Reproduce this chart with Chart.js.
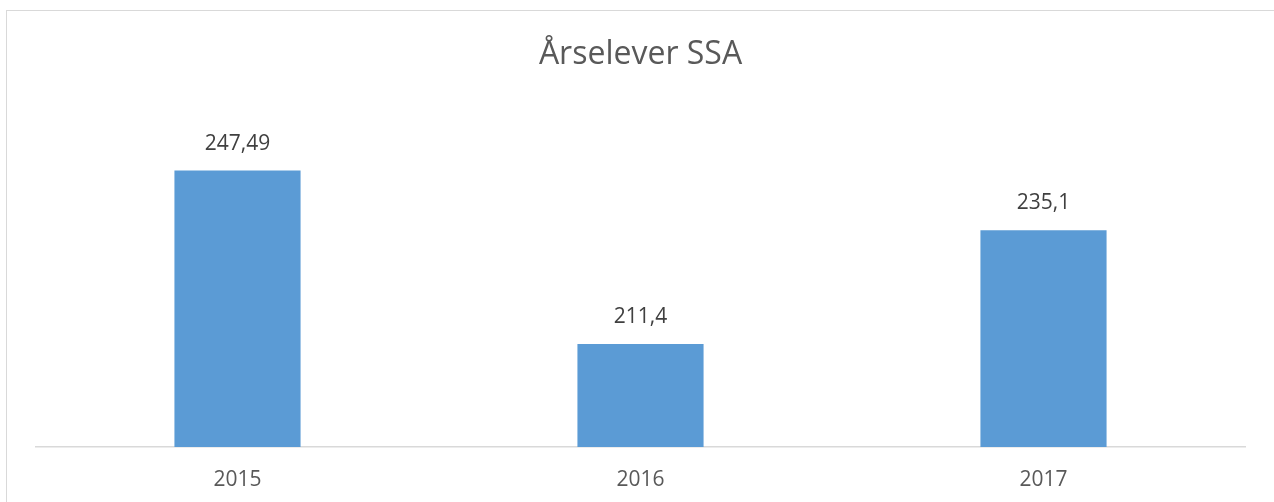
<!DOCTYPE html>
<html>
<head>
<meta charset="utf-8">
<script src="https://cdn.jsdelivr.net/npm/chart.js@4/dist/chart.umd.min.js"></script>
<style>
    html, body { margin: 0; padding: 0; background: #fff; overflow: hidden; }
    #frame {
        position: absolute; left: 6px; top: 10px; width: 1280px; height: 520px;
        border: 1px solid #d9d9d9; box-sizing: border-box;
    }
    #wrap { position: absolute; left: 0; top: 0; width: 1274px; height: 502px; }
</style>
</head>
<body>
<div id="frame"></div>
<div id="wrap"><canvas id="chart"></canvas></div>
<script>
const chartTitle = 'Årselever SSA';
const years = ['2015', '2016', '2017'];
const students = [247.49, 211.4, 235.1];

// draws the value above each bar, norwegian decimal comma
const valueLabels = {
    id: 'valueLabels',
    afterDatasetsDraw(chart) {
        const ctx = chart.ctx;
        const meta = chart.getDatasetMeta(0);
        ctx.save();
        ctx.font = '21px "Open Sans"';
        ctx.fillStyle = '#404040';
        ctx.textAlign = 'center';
        ctx.textBaseline = 'middle';
        meta.data.forEach((bar, i) => {
            const text = String(students[i]).replace('.', ',');
            ctx.fillText(text, bar.x, bar.y - 27);
        });
        ctx.restore();
    }
};

try {
    const ctx = document.getElementById('chart');
    ctx.chart = new Chart(ctx, {
        type: 'bar',
        data: {
            labels: years,
            datasets: [{
                label: chartTitle,
                data: students,
                backgroundColor: '#5b9bd5',
                borderWidth: 0,
                categoryPercentage: 1,
                barPercentage: 0.313
            }]
        },
        options: {
            responsive: true,
            maintainAspectRatio: false,
            animation: false,
            events: [],
            layout: {
                padding: { left: 36, right: 29, top: 0, bottom: 0 }
            },
            plugins: {
                legend: { display: false },
                tooltip: { enabled: false },
                title: {
                    display: true,
                    text: chartTitle,
                    color: '#595959',
                    font: { family: '"Open Sans"', size: 32, weight: 'normal' },
                    padding: { top: 36, bottom: 36 }
                }
            },
            scales: {
                y: {
                    display: false,
                    min: 190,
                    max: 260
                },
                x: {
                    grid: { display: false, drawTicks: false },
                    border: { display: true, color: '#d9d9d9', width: 1.5 },
                    ticks: {
                        color: '#595959',
                        padding: 20,
                        maxRotation: 0,
                        font: { family: '"Open Sans"', size: 21 }
                    },
                    afterFit(scale) {
                        scale.height = 55;
                    }
                }
            }
        },
        plugins: [valueLabels]
    });
} catch (error) {
    console.error('Error rendering chart:', error);
}
</script>
</body>
</html>
